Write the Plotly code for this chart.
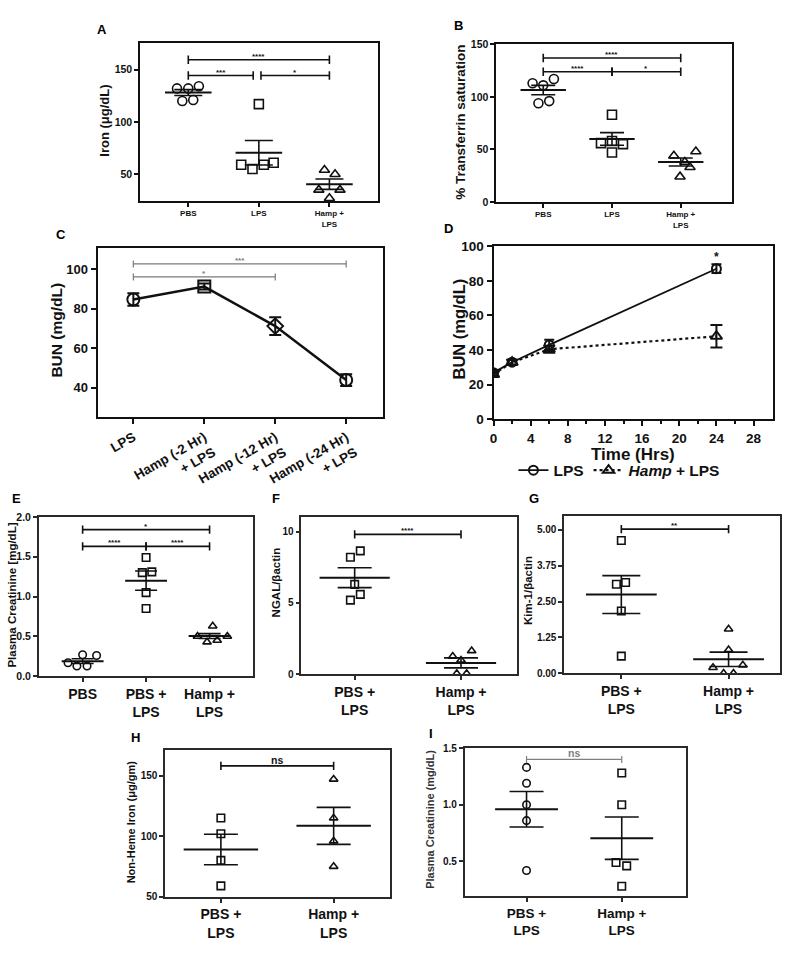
import plotly.graph_objects as go

W, H = 790, 953
FONT = "Liberation Sans, Arial, sans-serif"
INK = "#111111"

# ---------------- data ----------------
A_cats = ["PBS", "LPS", "Hamp +<br>LPS"]
A_vals = [[132, 132, 134, 120, 121], [117, 59, 55, 59, 61], [54, 50, 35, 35, 27]]
A_mean = [128, 70.5, 40.5]
A_sem = [2.8, 11.7, 5.0]
A_sig = [(0, 2, 159.4, "****"), (0, 0.92, 144.3, "***"), (1.03, 2, 144.3, "*")]

B_cats = ["PBS", "LPS", "Hamp +<br>LPS"]
B_vals = [[113, 111, 117, 94, 96], [83, 56, 58, 55, 47], [44, 48, 38, 33, 24]]
B_mean = [106.5, 60, 38]
B_sem = [4.5, 6.0, 3.8]
B_sig = [(0, 2, 137, "****"), (0, 1, 124, "****"), (1, 2, 124, "*")]

C_cats = ["LPS", "Hamp (-2 Hr)<br>+ LPS", "Hamp (-12 Hr)<br>+ LPS", "Hamp (-24 Hr)<br>+ LPS"]
C_mean = [84.7, 91.3, 71.2, 43.8]
C_err = [3.2, 1.5, 4.5, 3.0]
C_sig = [(0, 3, 102.8, "***"), (0, 2, 96.2, "*")]

D_hours = [0, 2, 6, 24]
D_lps = [27, 33, 43, 87]
D_lps_err = [1.5, 1.5, 3.0, 2.5]
D_hamp = [26, 33, 40.5, 48]
D_hamp_err = [1.5, 1.5, 2.0, 6.5]

E_cats = ["PBS", "PBS +<br>LPS", "Hamp +<br>LPS"]
E_vals = [[0.27, 0.26, 0.17, 0.13, 0.13], [1.49, 1.30, 1.31, 1.05, 0.85], [0.63, 0.50, 0.43, 0.45, 0.50]]
E_mean = [0.19, 1.20, 0.505]
E_sem = [0.03, 0.12, 0.03]
E_sig = [(0, 2, 1.84, "*"), (0, 1, 1.63, "****"), (1, 2, 1.63, "****")]

F_cats = ["PBS +<br>LPS", "Hamp +<br>LPS"]
F_vals = [[8.2, 8.65, 6.3, 5.6, 5.2], [1.26, 1.65, 0.99, 0.05, 0.05]]
F_mean = [6.77, 0.80]
F_sem = [0.70, 0.35]
F_sig = [(0, 1, 9.8, "****")]

G_cats = ["PBS +<br>LPS", "Hamp +<br>LPS"]
G_vals = [[4.62, 3.10, 3.16, 2.17, 0.60], [1.54, 0.82, 0.20, 0.29, 0.0, 0.0]]
G_mean = [2.74, 0.49]
G_sem = [0.66, 0.25]
G_sig = [(0, 1, 5.02, "**")]

H_cats = ["PBS +<br>LPS", "Hamp +<br>LPS"]
H_vals = [[115, 102, 80, 59], [147, 115, 96, 75]]
H_mean = [89, 108.5]
H_sem = [12.6, 15.3]
H_sig = [(0, 1, 158, "ns")]

I_cats = ["PBS +<br>LPS", "Hamp +<br>LPS"]
I_vals = [[1.33, 1.19, 1.00, 0.86, 0.42], [1.28, 1.00, 0.49, 0.46, 0.28]]
I_mean = [0.96, 0.705]
I_sem = [0.157, 0.187]
I_sig = [(0, 1, 1.40, "ns")]

# horizontal jitter of the dots (layout only, in category units)
A_jit = [[-0.16, 0, 0.15, -0.085, 0.07], [0, -0.25, -0.09, 0.07, 0.21], [-0.07, 0.08, -0.15, 0.15, 0]]
B_jit = [[-0.155, 0, 0.155, -0.07, 0.087], [0, -0.16, 0, 0.16, 0], [-0.1, 0.22, 0.06, 0.135, -0.01]]
E_jit = [[0, 0.22, -0.23, -0.09, 0.07], [0, -0.06, 0.09, 0, 0], [0.05, -0.19, -0.04, 0.12, 0.28]]
F_jit = [[-0.04, 0.053, 0, 0.053, -0.04], [-0.078, 0.1, 0, -0.04, 0.053]]
G_jit = [[0, -0.046, 0.04, 0, 0], [0, 0, -0.145, 0.133, -0.046, 0.046]]
H_jit = [[0, 0, 0, 0], [0, 0, 0, 0]]
I_jit = [[0, 0, 0, 0, 0], [0, 0, -0.06, 0.052, 0]]

fig = go.Figure()
layout = dict(width=W, height=H, margin=dict(l=0, r=0, t=0, b=0),
              paper_bgcolor="white", plot_bgcolor="white",
              font=dict(family=FONT, color=INK), showlegend=True)
annotations = []


def ax_names(k):
    return ("xaxis" if k == 1 else f"xaxis{k}", "yaxis" if k == 1 else f"yaxis{k}",
            "x" if k == 1 else f"x{k}", "y" if k == 1 else f"y{k}")


def add_axes(k, box, xr, yr, yticks, yticktext, ytf, xtickvals=None, xticktext=None, xtf=8,
             lw=2.0, lc=INK, xangle=0, ticklen=4):
    xa, ya, xr_, yr_ = ax_names(k)
    x0, y0, x1, y1 = box
    common = dict(showline=True, linewidth=lw, linecolor=lc, mirror=True, showgrid=False,
                  zeroline=False, ticks="outside", ticklen=ticklen, tickwidth=1.5, tickcolor=lc)
    layout[xa] = dict(domain=[x0 / W, x1 / W], anchor=yr_, range=xr, **common,
                      tickfont=dict(size=xtf, family=FONT, color=INK, weight="bold"),
                      tickangle=xangle)
    if xtickvals is not None:
        layout[xa].update(tickmode="array", tickvals=xtickvals, ticktext=xticktext)
    layout[ya] = dict(domain=[1 - y1 / H, 1 - y0 / H], anchor=xr_, range=yr, **common,
                      tickmode="array", tickvals=yticks, ticktext=yticktext,
                      tickfont=dict(size=ytf, family=FONT, color=INK, weight="bold"))
    return xr_, yr_


def dot_panel(k, vals, jit, means, sems, symbols, msize, cap, lw_err=1.6):
    _, _, xr_, yr_ = ax_names(k)
    for i, (v, j) in enumerate(zip(vals, jit)):
        fig.add_trace(go.Scatter(x=[i + d for d in j], y=v, mode="markers", xaxis=xr_, yaxis=yr_,
                                 showlegend=False, hoverinfo="skip",
                                 marker=dict(symbol=symbols[i], size=msize, color=INK,
                                             line=dict(width=1.6, color=INK))))
    mx, my = [], []
    for i, m in enumerate(means):
        mx += [i - 0.33, i + 0.33, None]
        my += [m, m, None]
    fig.add_trace(go.Scatter(x=mx, y=my, mode="lines", xaxis=xr_, yaxis=yr_, showlegend=False,
                             hoverinfo="skip", line=dict(color=INK, width=2)))
    fig.add_trace(go.Scatter(x=list(range(len(means))), y=means, mode="markers", xaxis=xr_, yaxis=yr_,
                             showlegend=False, hoverinfo="skip",
                             marker=dict(size=1, color="rgba(0,0,0,0)"),
                             error_y=dict(type="data", array=sems, visible=True, width=cap,
                                          thickness=lw_err, color=INK)))


def brackets(k, sig, color=INK, lw=1.6, fs=9, tick=6, yshift=-4):
    _, _, xr_, yr_ = ax_names(k)
    for (a, b, y, lab) in sig:
        fig.add_trace(go.Scatter(x=[a, b], y=[y, y], mode="lines+markers", xaxis=xr_, yaxis=yr_,
                                 showlegend=False, hoverinfo="skip", line=dict(color=color, width=lw),
                                 marker=dict(symbol="line-ns", size=tick,
                                             line=dict(width=lw, color=color))))
        annotations.append(dict(x=(a + b) / 2, y=y, xref=xr_, yref=yr_, text=lab, showarrow=False,
                                yanchor="bottom", yshift=yshift,
                                font=dict(size=fs, family=FONT, color=color, weight="bold")))


def ytitle(text, x, y, size, color=INK):
    annotations.append(dict(x=x / W, y=1 - y / H, xref="paper", yref="paper", text=text, textangle=-90,
                            showarrow=False, xanchor="center", yanchor="middle",
                            font=dict(size=size, family=FONT, color=color, weight="bold")))


def plabel(text, x, y):
    annotations.append(dict(x=x / W, y=1 - y / H, xref="paper", yref="paper", text=text, showarrow=False,
                            xanchor="center", yanchor="middle",
                            font=dict(size=13, family=FONT, color="black", weight="bold")))


# ---------------- A ----------------
add_axes(1, (137, 37, 376, 197), [-0.68, 2.69], [24.5, 175], [50, 100, 150], ["50", "100", "150"], 10.5,
         [0, 1, 2], A_cats, 8)
dot_panel(1, A_vals, A_jit, A_mean, A_sem, ["circle-open", "square-open", "triangle-up-open"], 9, 14)
brackets(1, A_sig, fs=8, yshift=-3)
ytitle("Iron (μg/dL)", 101, 115, 13)
plabel("A", 99, 23)

# ---------------- B ----------------
add_axes(2, (495, 38, 732, 198), [-0.68, 2.75], [0, 150], [0, 50, 100, 150], ["0", "50", "100", "150"], 10.5,
         [0, 1, 2], B_cats, 8)
dot_panel(2, B_vals, B_jit, B_mean, B_sem, ["circle-open", "square-open", "triangle-up-open"], 9, 12)
brackets(2, B_sig, fs=8, yshift=-3)
ytitle("% Transferrin saturation", 458, 117, 13.5)
plabel("B", 457, 19)

# ---------------- C ----------------
add_axes(3, (94, 245, 381, 417), [-0.505, 3.52], [24.8, 110.8], [40, 60, 80, 100], ["40", "60", "80", "100"], 13,
         [0, 1, 2, 3], C_cats, 13.5, xangle=-30, ticklen=5)
fig.add_trace(go.Scatter(x=list(range(4)), y=C_mean, mode="lines+markers", xaxis="x3", yaxis="y3",
                         showlegend=False, hoverinfo="skip", line=dict(color=INK, width=2.5),
                         marker=dict(symbol=["circle-open", "square-open", "diamond-open", "circle-open"],
                                     size=12, color=INK, line=dict(width=2, color=INK)),
                         error_y=dict(type="data", array=C_err, visible=True, width=6, thickness=2, color=INK)))
brackets(3, C_sig, color="#7a7a7a", lw=1.2, fs=8, tick=5, yshift=-3)
ytitle("BUN (mg/dL)", 53, 328, 15.5)
plabel("C", 57, 231)

# ---------------- D ----------------
add_axes(4, (492, 243, 773, 419), [0, 30.1], [0, 100], [0, 20, 40, 60, 80, 100],
         ["0", "20", "40", "60", "80", "100"], 13.5, [0, 4, 8, 12, 16, 20, 24, 28],
         ["0", "4", "8", "12", "16", "20", "24", "28"], 13.5, ticklen=5)
layout["xaxis4"]["minor"] = dict(tickvals=[2, 6, 10, 14, 18, 22, 26], ticklen=3, tickwidth=1.5,
                                 tickcolor=INK, ticks="outside")
fig.add_trace(go.Scatter(x=D_hours, y=D_lps, mode="lines+markers", xaxis="x4", yaxis="y4",
                         name="LPS", hoverinfo="skip", line=dict(color=INK, width=1.8),
                         marker=dict(symbol="circle-open", size=9, color=INK, line=dict(width=2, color=INK)),
                         error_y=dict(type="data", array=D_lps_err, visible=True, width=5, thickness=2,
                                      color=INK)))
fig.add_trace(go.Scatter(x=D_hours, y=D_hamp, mode="lines+markers", xaxis="x4", yaxis="y4",
                         name="<i>Hamp</i> + LPS", hoverinfo="skip",
                         line=dict(color=INK, width=2.2, dash="dot"),
                         marker=dict(symbol="triangle-up-open", size=10, color=INK,
                                     line=dict(width=2, color=INK)),
                         error_y=dict(type="data", array=D_hamp_err, visible=True, width=6, thickness=2,
                                      color=INK)))
annotations.append(dict(x=24, y=D_lps[3] + D_lps_err[3], xref="x4", yref="y4", text="*", showarrow=False,
                        yanchor="bottom", yshift=-2, font=dict(size=12, family=FONT, color=INK, weight="bold")))
annotations.append(dict(x=0.5 * (0 + 30.1), y=0, xref="x4", yref="y4", text="Time (Hrs)", showarrow=False,
                        yanchor="top", yshift=-24, font=dict(size=17, family=FONT, color=INK, weight="bold")))
ytitle("BUN (mg/dL)", 457, 327, 16.5)
plabel("D", 447, 225)
layout["legend"] = dict(x=512 / W, y=1 - 471 / H, xanchor="left", yanchor="middle", orientation="h",
                        font=dict(size=15.5, family=FONT, color=INK, weight="bold"),
                        bgcolor="rgba(0,0,0,0)", itemwidth=30, tracegroupgap=0)

# ---------------- E ----------------
THIN = "#2a2a2a"
add_axes(5, (35, 518, 250, 680), [-0.69, 2.68], [0, 2.0], [0, 0.5, 1.0, 1.5, 2.0],
         ["0.0", "0.5", "1.0", "1.5", "2.0"], 10.5, [0, 1, 2], E_cats, 14, lw=1.6, lc=THIN)
dot_panel(5, E_vals, E_jit, E_mean, E_sem, ["circle-open", "square-open", "triangle-up-open"], 7.5, 11)
brackets(5, E_sig, fs=8, yshift=-3)
ytitle("Plasma Creatinine [mg/dL]", 8, 597, 11.5)
plabel("E", 13, 499)

# ---------------- F ----------------
add_axes(6, (299, 518, 516, 678), [-0.5, 1.53], [0, 11.03], [0, 5, 10], ["0", "5", "10"], 10,
         [0, 1], F_cats, 14, lw=1.6, lc=THIN)
dot_panel(6, F_vals, F_jit, F_mean, F_sem, ["square-open", "triangle-up-open"], 7.5, 17)
brackets(6, F_sig, fs=8, yshift=-3)
ytitle("NGAL/βactin", 273, 585, 11.5)
plabel("F", 273, 499)

# ---------------- G ----------------
add_axes(7, (563, 517, 780, 677), [-0.533, 1.48], [0, 5.48], [0, 1.25, 2.5, 3.75, 5.0],
         ["0.00", "1.25", "2.50", "3.75", "5.00"], 10, [0, 1], G_cats, 14, lw=1.6, lc=THIN)
dot_panel(7, G_vals, G_jit, G_mean, G_sem, ["square-open", "triangle-up-open"], 7.5, 19)
brackets(7, G_sig, fs=8, yshift=-3)
ytitle("Kim-1/βactin", 526, 593, 11.5)
plabel("G", 533, 499)

# ---------------- H ----------------
add_axes(8, (162, 755, 388, 904), [-0.494, 1.5], [50, 171], [50, 100, 150], ["50", "100", "150"], 10,
         [0, 1], H_cats, 14, lw=1.6, lc=THIN)
dot_panel(8, H_vals, H_jit, H_mean, H_sem, ["square-open", "triangle-up-open"], 7.5, 17)
brackets(8, H_sig, fs=10.5, yshift=-2)
ytitle("Non-Heme Iron (μg/gm)", 128, 828, 11)
plabel("H", 132, 742)

# ---------------- I ----------------
add_axes(9, (463, 753, 685, 903), [-0.65, 1.67], [0.196, 1.5], [0.5, 1.0, 1.5], ["0.5", "1.0", "1.5"], 10,
         [0, 1], I_cats, 13.5, lw=1.6, lc=THIN)
dot_panel(9, I_vals, I_jit, I_mean, I_sem, ["circle-open", "square-open"], 7.5, 17)
brackets(9, I_sig, color="#808080", lw=1.2, fs=10.5, tick=5, yshift=-2)
ytitle("Plasma Creatinine (mg/dL)", 428, 825, 11, color="#333333")
plabel("I", 429, 738)

layout["annotations"] = annotations
fig.update_layout(**layout)
fig.write_html("out.html", config={"displayModeBar": False},
               post_script="document.body.style.margin='0';document.body.style.overflow='hidden';")
